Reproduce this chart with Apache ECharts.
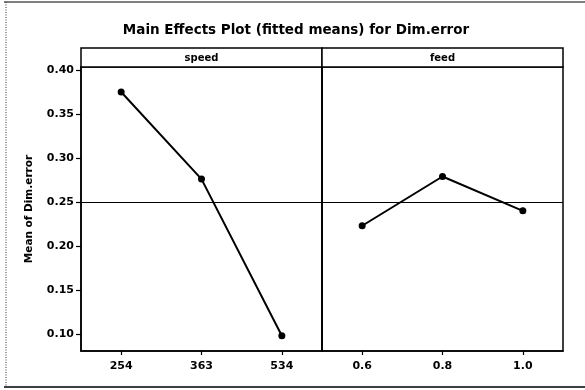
<!DOCTYPE html>
<html>
<head>
<meta charset="utf-8">
<script src="https://cdn.jsdelivr.net/npm/echarts@6/dist/echarts.min.js"></script>
<style>
html,body{margin:0;padding:0;background:#fff;}
#c{width:585px;height:390px;}
</style>
</head>
<body>
<div id="c"></div>
<script>
const titleText = "Main Effects Plot (fitted means) for Dim.error";
const yName = "Mean of Dim.error";
const panelNames = ["speed", "feed"];
const speedLevels = ["254", "363", "534"];
const feedLevels = ["0.6", "0.8", "1.0"];
const speedMeans = [0.375, 0.276, 0.098];
const feedMeans = [0.223, 0.279, 0.240];
const grandMean = 0.249;
const yTicks = [0.10, 0.15, 0.20, 0.25, 0.30, 0.35, 0.40];

const FONT = "DejaVu Sans";
const chart = echarts.init(document.getElementById('c'), null, {renderer: 'canvas'});

const gTop = 67, gH = 284, gLeft = 81, gW = 241;
const stripTop = 48;

function yAxisCfg(idx, showLabels) {
  return {
    type: 'value', gridIndex: idx,
    min: 0.0807, max: 0.4034,
    axisLine: {show: true, lineStyle: {color: '#000', width: 1.5}},
    axisTick: {show: showLabels, length: 5, lineStyle: {color: '#000', width: 1.2}, customValues: yTicks},
    axisLabel: {show: showLabels, customValues: yTicks, color: '#000', fontFamily: FONT, fontWeight: 'bold', fontSize: 11, margin: 7,
      formatter: v => v.toFixed(2)},
    splitLine: {show: false},
    name: showLabels ? yName : '',
    nameLocation: 'middle', nameGap: 46,
    nameTextStyle: {color: '#000', fontFamily: FONT, fontWeight: 'bold', fontSize: 10.5}
  };
}
function xAxisCfg(idx, cats) {
  return {
    type: 'category', gridIndex: idx, data: cats, boundaryGap: true,
    axisLine: {show: true, lineStyle: {color: '#000', width: 1.5}},
    axisTick: {show: true, alignWithLabel: true, length: 4, lineStyle: {color: '#000', width: 1.2}},
    axisLabel: {color: '#000', fontFamily: FONT, fontWeight: 'bold', fontSize: 11, margin: 10},
    splitLine: {show: false}
  };
}
function seriesCfg(idx, data) {
  return {
    type: 'line', xAxisIndex: idx, yAxisIndex: idx, data: data,
    symbol: 'circle', symbolSize: 7,
    lineStyle: {color: '#000', width: 2},
    itemStyle: {color: '#000'},
    animation: false,
    markLine: {
      silent: true, symbol: 'none', animation: false,
      label: {show: false},
      lineStyle: {color: '#000', width: 1.2, type: 'solid'},
      data: [{yAxis: grandMean}]
    }
  };
}

const option = {
  animation: false,
  backgroundColor: '#fff',
  grid: [
    {left: gLeft, top: gTop, width: gW, height: gH, show: true, borderColor: '#000', borderWidth: 1.5},
    {left: gLeft + gW, top: gTop, width: gW, height: gH, show: true, borderColor: '#000', borderWidth: 1.5}
  ],
  xAxis: [xAxisCfg(0, speedLevels), xAxisCfg(1, feedLevels)],
  yAxis: [yAxisCfg(0, true), yAxisCfg(1, false)],
  series: [seriesCfg(0, speedMeans), seriesCfg(1, feedMeans)],
  graphic: [
    {type: 'text', x: 296, y: 30, style: {text: titleText, fill: '#000', font: 'bold 13.5px "DejaVu Sans"', align: 'center', verticalAlign: 'middle'}},
    {type: 'rect', shape: {x: gLeft, y: stripTop, width: gW, height: gTop - stripTop}, style: {fill: '#fff', stroke: '#000', lineWidth: 1.5}},
    {type: 'rect', shape: {x: gLeft + gW, y: stripTop, width: gW, height: gTop - stripTop}, style: {fill: '#fff', stroke: '#000', lineWidth: 1.5}},
    {type: 'text', x: gLeft + gW / 2, y: stripTop + 10, style: {text: panelNames[0], fill: '#000', font: 'bold 10px "DejaVu Sans"', align: 'center', verticalAlign: 'middle'}},
    {type: 'text', x: gLeft + gW * 1.5, y: stripTop + 10, style: {text: panelNames[1], fill: '#000', font: 'bold 10px "DejaVu Sans"', align: 'center', verticalAlign: 'middle'}},
    {type: 'line', shape: {x1: 4, y1: 2, x2: 585, y2: 2}, style: {stroke: '#000', lineWidth: 1.2}},
    {type: 'line', shape: {x1: 6, y1: 2, x2: 6, y2: 387}, style: {stroke: '#333', lineWidth: 1, lineDash: [1, 1.5]}},
    {type: 'line', shape: {x1: 4, y1: 387, x2: 585, y2: 387}, style: {stroke: '#000', lineWidth: 1.5}}
  ]
};
chart.setOption(option);
</script>
</body>
</html>
